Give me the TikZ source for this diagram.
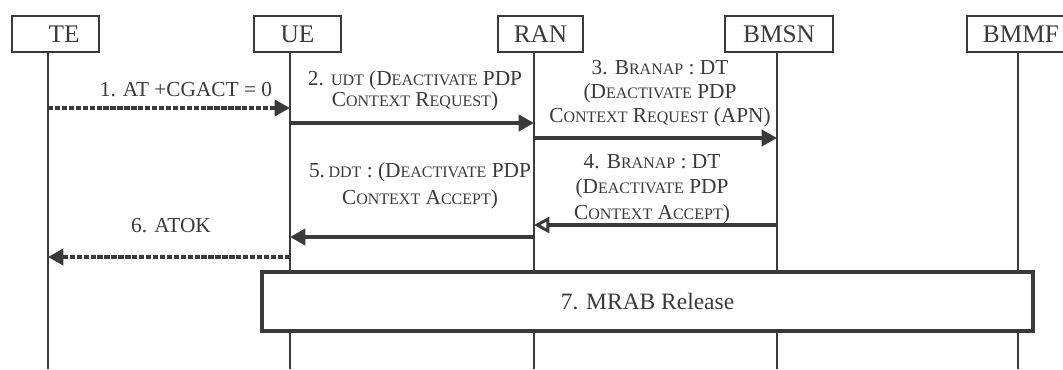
\documentclass[tikz,border=0pt]{standalone}
\usepackage{fontspec}
\setmainfont{Liberation Serif}
\usetikzlibrary{arrows.meta}
\definecolor{ink}{HTML}{3A3A3A}
\newcommand{\smc}[1]{{\fontsize{12}{12}\selectfont #1}}
\newcommand{\lowtext}[1]{\raisebox{-3.5pt}{#1}}
\begin{document}
\begin{tikzpicture}[x=0.75pt,y=-0.75pt,
  actor/.style={draw=ink, line width=1.2pt, minimum height=27pt, inner sep=0pt,
    font=\fontsize{19}{20}\selectfont, text=ink},
  life/.style={draw=ink, line width=1.2pt},
  msg/.style={draw=ink, line width=2.8pt, -{Triangle[length=11.5pt,width=12pt]}},
  dmsg/.style={msg, dash pattern=on 4pt off 1.2pt},
  omsg/.style={draw=ink, line width=2.8pt, -{Triangle[open,length=11.5pt,width=12pt,line width=2.2pt]}},
  lbl/.style={text=ink, align=center, inner sep=0pt},
  relbox/.style={draw=ink, fill=white, line width=2.8pt, inner sep=0pt,
    font=\fontsize{17.6}{18}\selectfont, text=ink},
]
\useasboundingbox (0,0) rectangle (1063,369);

% actors
\node[actor, minimum width=65.25pt] (TE)   at (55.5,34)  {\hspace*{12.75pt}\lowtext{TE}};
\node[actor, minimum width=65.25pt] (UE)   at (297.5,34) {\lowtext{UE}};
\node[actor, minimum width=63.75pt] (RAN)  at (540.5,34) {\lowtext{RAN}};
\node[actor, minimum width=81pt]    (BMSN) at (779,34)   {\lowtext{BMSN}};
\node[actor, minimum width=81pt]    (BMMF) at (1021,34)  {\lowtext{BMMF}};

% lifeline ends
\coordinate (TEe)   at (48,369);
\coordinate (UEe)   at (290,369);
\coordinate (RANe)  at (534,369);
\coordinate (BMSNe) at (777,369);
\coordinate (BMMFe) at (1018,369);

\draw[life] (TE.south -| TEe) -- (TEe);
\draw[life] (UE.south -| UEe) -- (UEe);
\draw[life] (RAN.south -| RANe) -- (RANe);
\draw[life] (BMSN.south -| BMSNe) -- (BMSNe);
\draw[life] (BMMF.south -| BMMFe) -- (BMMFe);

% messages
\draw[dmsg] (TEe |- 0,108) -- (UEe |- 0,108);
\node[lbl, font=\fontsize{16}{17}\selectfont] (l1) at (186,90) {1. AT +CGACT = 0};

\draw[msg] (UEe |- 0,123) -- (RANe |- 0,123);
\node[lbl, font=\fontsize{16}{12.75}\selectfont] (l2) at (415,91)
  {2. \smc{UDT} (D\smc{EACTIVATE} PDP\\C\smc{ONTEXT} R\smc{EQUEST})};

\draw[msg] (RANe |- 0,138) -- (BMSNe |- 0,138);
\node[lbl, font=\fontsize{16}{18}\selectfont] (l3) at (660,94)
  {3. B\smc{RANAP} : DT\\(D\smc{EACTIVATE} PDP\\C\smc{ONTEXT} R\smc{EQUEST} (APN)};

\draw[omsg] (BMSNe |- 0,225) -- (RANe |- 0,225);
\node[lbl, font=\fontsize{16}{19}\selectfont] (l4) at (652,189)
  {4. B\smc{RANAP} : DT\\(D\smc{EACTIVATE} PDP\\C\smc{ONTEXT} A\smc{CCEPT})};

\draw[msg] (RANe |- 0,237) -- (UEe |- 0,237);
\node[lbl, font=\fontsize{16}{20}\selectfont] (l5) at (420,186)
  {5.\,\smc{DDT} : (D\smc{EACTIVATE} PDP\\C\smc{ONTEXT} A\smc{CCEPT})};

\draw[dmsg] (UEe |- 0,257) -- (TEe |- 0,257);
\node[lbl, font=\fontsize{16}{17}\selectfont] (l6) at (171,226) {6. ATOK};

% release box
\node[relbox, minimum width=578.25pt, minimum height=44.25pt] (MRAB) at (647.5,301.5) {7. MRAB Release};
\end{tikzpicture}
\end{document}
